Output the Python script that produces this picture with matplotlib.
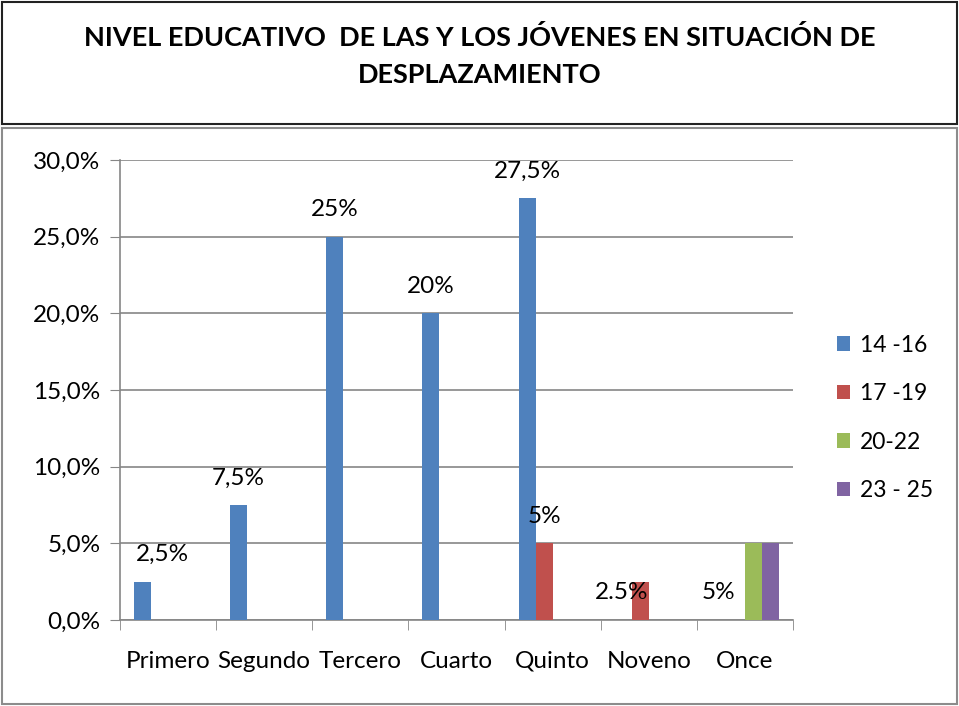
import numpy as np
import matplotlib.pyplot as plt
from matplotlib.patches import Rectangle
from matplotlib.ticker import FuncFormatter, FixedLocator

plt.rcParams['font.family'] = ['Lato', 'DejaVu Sans']

categories = ["Primero", "Segundo", "Tercero", "Cuarto", "Quinto", "Noveno", "Once"]
series_names = ["14 -16", "17 -19", "20-22", "23 - 25"]
series_colors = ["#4f81bd", "#c0504d", "#9bbb59", "#8064a2"]
values = [
    [2.5, 7.5, 25.0, 20.0, 27.5, 0.0, 0.0],
    [0.0, 0.0, 0.0, 0.0, 5.0, 2.5, 0.0],
    [0.0, 0.0, 0.0, 0.0, 0.0, 0.0, 5.0],
    [0.0, 0.0, 0.0, 0.0, 0.0, 0.0, 5.0],
]
# (series index, category index, text)
labels_above = [(0, 0, "2,5%"), (0, 1, "7,5%"), (0, 2, "25%"), (0, 3, "20%"),
                (0, 4, "27,5%"), (1, 4, "5%")]
labels_inside = [(1, 5, "2.5%"), (2, 6, "5%")]

fig = plt.figure(figsize=(9.59, 7.06), dpi=100)

# title frame and chart frame
fig.patches.append(Rectangle((2 / 959, 1 - 124 / 706), 955 / 959, 122 / 706,
                             transform=fig.transFigure, fill=False,
                             edgecolor="#222222", linewidth=1.5))
fig.patches.append(Rectangle((2 / 959, 2 / 706), 955 / 959, 576 / 706,
                             transform=fig.transFigure, fill=False,
                             edgecolor="#8c8c8c", linewidth=1.5))

fig.text(0.5, 1 - 38 / 706, "NIVEL EDUCATIVO  DE LAS Y LOS JÓVENES EN SITUACIÓN DE",
         ha="center", va="center", fontsize=19.5, fontweight="bold")
fig.text(0.5, 1 - 75 / 706, "DESPLAZAMIENTO",
         ha="center", va="center", fontsize=19.5, fontweight="bold")

ax = fig.add_axes([120 / 959, 1 - 620 / 706, 673 / 959, 460 / 706])

n_series = len(series_names)
width = 0.177
x = np.arange(len(categories))
bars = []
for i, (name, col, vals) in enumerate(zip(series_names, series_colors, values)):
    offs = (i - (n_series - 1) / 2) * width
    b = ax.bar(x + offs, vals, width=width, color=col, label=name, zorder=3)
    bars.append(b)


def bar_x(si, ci):
    return x[ci] + (si - (n_series - 1) / 2) * width


for si, ci, txt in labels_above:
    dx = 20 if ci == 0 else 0
    ax.annotate(txt, (bar_x(si, ci), values[si][ci]), xytext=(dx * 0.72, 19.5),
                textcoords="offset points", ha="center", va="center", fontsize=17.5)

for si, ci, txt in labels_inside:
    if si == 1:
        xx = bar_x(si, ci) + width / 2
        dx = 0
    else:
        xx = bar_x(si, ci) - width / 2
        dx = -7
    ax.annotate(txt, (xx, 0), xytext=(dx, 19.5), textcoords="offset points",
                ha="right", va="center", fontsize=17.5)

ax.set_xlim(-0.5, len(categories) - 0.5)
ax.set_ylim(0, 30)
ax.set_yticks(np.arange(0, 30.1, 5))
ax.yaxis.set_major_formatter(FuncFormatter(lambda v, p: f"{v:.1f}%".replace(".", ",")))
ax.set_xticks(x)
ax.set_xticklabels(categories, fontsize=17.5)
ax.xaxis.set_minor_locator(FixedLocator(np.arange(-0.5, len(categories), 1)))
ax.tick_params(axis="x", which="major", length=0, pad=22)
ax.tick_params(axis="x", which="minor", length=7, color="#868686", direction="out")
ax.tick_params(axis="y", length=7, color="#868686", labelsize=17.5, pad=7)
ax.grid(axis="y", color="#868686", linewidth=1.2, zorder=0)
for s in ["top", "right"]:
    ax.spines[s].set_visible(False)
for s in ["left", "bottom"]:
    ax.spines[s].set_color("#868686")
    ax.spines[s].set_linewidth(1.2)

fig.legend(handles=bars, labels=series_names, loc="center left",
           bbox_to_anchor=(816 / 959, 1 - 418 / 706), frameon=False, fontsize=16.5,
           handlelength=0.6, handleheight=0.6, handletextpad=0.4, labelspacing=1.2)

fig.savefig("out.png", dpi=100)
